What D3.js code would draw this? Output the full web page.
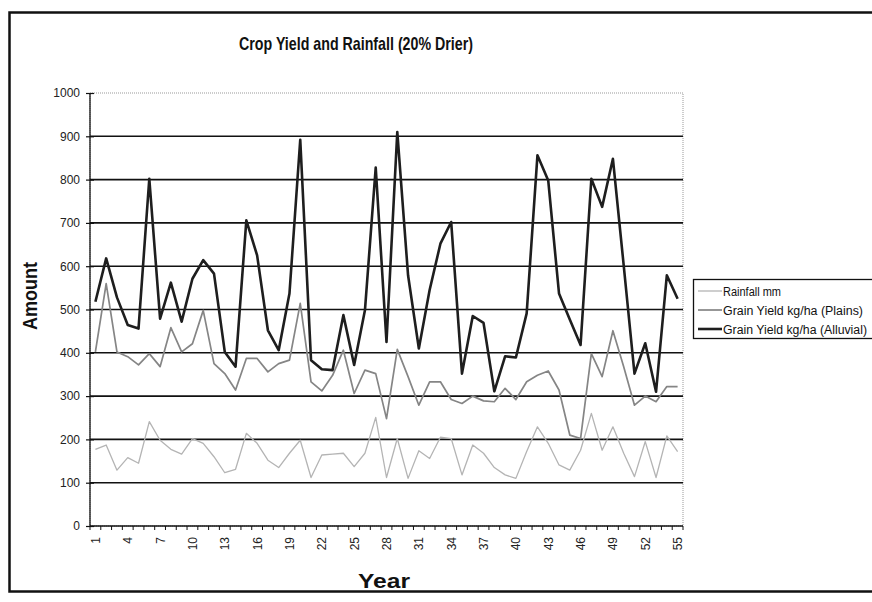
<!DOCTYPE html>
<html><head><meta charset="utf-8">
<script src="https://cdn.jsdelivr.net/npm/d3@7"></script>
<style>html,body{margin:0;padding:0;background:#fff;}svg{display:block;font-family:"Liberation Sans",Arial,sans-serif;}</style>
</head><body>
<svg id="chart" width="872" height="602"></svg>
<script>
const years = d3.range(1, 56);
const yTicks = [0,100,200,300,400,500,600,700,800,900,1000];
const xTickLabels = [1,4,7,10,13,16,19,22,25,28,31,34,37,40,43,46,49,52,55];
const seriesNames = ["Rainfall mm","Grain Yield kg/ha (Plains)","Grain Yield kg/ha (Alluvial)"];
const rainfall = [177,187,129,158,145,241,198,177,166,202,191,160,123,131,214,191,152,135,168,198,
  112,164,166,168,137,168,251,112,202,110,174,156,205,202,118,187,168,135,118,110,
  172,229,191,141,129,175,260,175,229,168,114,195,112,208,172];
const plains = [402,560,402,391,372,398,368,458,402,421,498,375,352,314,387,387,356,375,383,514,
  333,312,348,406,306,360,352,248,408,345,279,333,333,292,283,300,289,287,318,292,
  333,348,358,314,210,202,398,345,451,368,279,300,287,322,322];
const alluvial = [518,618,528,464,456,802,479,562,472,571,614,583,402,368,706,625,452,406,537,892,
  383,362,360,487,372,498,828,425,910,579,410,545,652,702,352,485,469,311,392,389,
  491,856,798,537,477,418,802,737,848,602,352,422,310,579,525];

const svg = d3.select("#chart");
const L = 90, R = 683, T = 93, B = 526;
const x = d3.scalePoint().domain(years).range([L, R]).padding(0.5);
const y = d3.scaleLinear().domain([0, 1000]).range([B, T]);
const step = x.step();
const narrow = '"Liberation Sans Narrow","Liberation Sans",Arial,sans-serif';

// outer frame
svg.append("rect").attr("x", 9.5).attr("y", 12.5).attr("width", 900).attr("height", 579)
  .attr("fill", "none").attr("stroke", "#111").attr("stroke-width", 2.5);

// plot area border (gray dotted)
svg.append("rect").attr("x", L).attr("y", T).attr("width", R - L).attr("height", B - T)
  .attr("fill", "none").attr("stroke", "#999").attr("stroke-width", 1).attr("stroke-dasharray", "1,1");

// gridlines
svg.append("g").selectAll("line").data(yTicks.filter(v => v > 0 && v < 1000)).join("line")
  .attr("x1", L).attr("x2", R).attr("y1", d => y(d)).attr("y2", d => y(d))
  .attr("stroke", "#111").attr("stroke-width", 1.6);

// y axis
const yAxis = d3.axisLeft(y).tickValues(yTicks).tickFormat(d3.format("d")).tickSize(4).tickPadding(6);
const gy = svg.append("g").attr("transform", `translate(${L},0)`).call(yAxis);
gy.select(".domain").attr("stroke", "#111").attr("stroke-width", 1.3).attr("d", `M0,${T}V${B}`);
gy.selectAll(".tick line").attr("stroke", "#111").attr("x1", 4).attr("x2", -4).attr("stroke-width", 1.2);
gy.selectAll(".tick text").attr("font-size", 12).attr("fill", "#222").attr("x", -10)
  .attr("font-family", narrow);

// x axis
const gx = svg.append("g").attr("transform", `translate(0,${B})`);
gx.append("line").attr("x1", L).attr("x2", R).attr("stroke", "#111").attr("stroke-width", 1.3);
gx.selectAll("line.tk").data(d3.range(0, 56)).join("line").attr("class", "tk")
  .attr("x1", i => L + i * step).attr("x2", i => L + i * step).attr("y1", 0).attr("y2", 4)
  .attr("stroke", "#111").attr("stroke-width", 1);
gx.selectAll("text").data(xTickLabels).join("text")
  .attr("transform", d => `translate(${x(d) + 4.5},${11}) rotate(-90)`)
  .attr("text-anchor", "end").attr("font-size", 12).attr("fill", "#222")
  .attr("font-family", narrow)
  .text(d => d);

// lines
const line = d3.line().x((d, i) => x(years[i])).y(d => y(d));
const styles = [
  {data: rainfall, color: "#b4b4b4", w: 1.3},
  {data: plains, color: "#858585", w: 1.7},
  {data: alluvial, color: "#1e1e1e", w: 2.6}
];
styles.forEach(s => {
  svg.append("path").datum(s.data).attr("d", line).attr("fill", "none")
    .attr("stroke", s.color).attr("stroke-width", s.w).attr("stroke-linejoin", "round");
});

// title
svg.append("text").attr("x", 356).attr("y", 50).attr("text-anchor", "middle")
  .attr("font-size", 19).attr("font-weight", "bold").attr("fill", "#111")
  .attr("textLength", 234).attr("lengthAdjust", "spacingAndGlyphs")
  .text("Crop Yield and Rainfall (20% Drier)");

// axis titles
svg.append("text").attr("transform", "translate(37,296) rotate(-90)").attr("text-anchor", "middle")
  .attr("font-size", 20).attr("font-weight", "bold").attr("fill", "#111")
  .attr("textLength", 68).attr("lengthAdjust", "spacingAndGlyphs").text("Amount");
svg.append("text").attr("x", 384).attr("y", 588).attr("text-anchor", "middle")
  .attr("font-size", 20).attr("font-weight", "bold").attr("fill", "#111")
  .attr("textLength", 52).attr("lengthAdjust", "spacingAndGlyphs").text("Year");

// legend
const legendLens = [58, 140, 144];
const lg = svg.append("g");
lg.append("rect").attr("x", 693.5).attr("y", 279.5).attr("width", 200).attr("height", 59)
  .attr("fill", "#fff").attr("stroke", "#111").attr("stroke-width", 1.3);
seriesNames.forEach((n, i) => {
  const yy = 291 + i * 19;
  lg.append("line").attr("x1", 698).attr("x2", 722).attr("y1", yy).attr("y2", yy)
    .attr("stroke", styles[i].color).attr("stroke-width", styles[i].w);
  lg.append("text").attr("x", 723).attr("y", yy + 4.5).attr("font-size", 12.5).attr("fill", "#111")
    .attr("font-family", narrow)
    .attr("textLength", legendLens[i]).attr("lengthAdjust", "spacingAndGlyphs").text(n);
});
</script>
</body></html>
